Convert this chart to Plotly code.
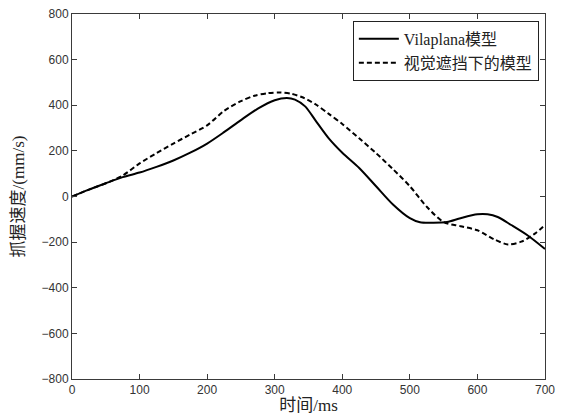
import plotly.graph_objects as go

# Time (ms) and grip velocity (mm/s)
x_solid = [0, 25, 50, 75, 100, 125, 150, 175, 200, 225, 250, 275, 300, 318, 330,
           345, 360, 380, 400, 425, 450, 475, 500, 515, 535, 555, 575, 600, 615,
           630, 650, 675, 700]
y_solid = [0, 30, 58, 85, 105, 130, 158, 192, 232, 282, 335, 385, 422, 432, 425,
           395, 335, 255, 192, 125, 45, -35, -95, -113, -115, -112, -95, -78, -78,
           -90, -125, -172, -230]

x_dash = [0, 25, 50, 75, 100, 125, 150, 175, 200, 225, 250, 270, 290, 308, 325,
          340, 360, 380, 400, 425, 450, 475, 500, 525, 550, 575, 600, 625, 645,
          665, 685, 700]
y_dash = [0, 30, 58, 92, 145, 190, 232, 272, 312, 375, 418, 442, 453, 456, 450,
          436, 405, 362, 318, 255, 190, 120, 45, -45, -112, -130, -148, -188, -210,
          -198, -163, -125]

x_ticks = [0, 100, 200, 300, 400, 500, 600, 700]
y_ticks = [-800, -600, -400, -200, 0, 200, 400, 600, 800]

series_names = ["Vilaplana模型", "视觉遮挡下的模型"]

fig = go.Figure()
fig.add_trace(go.Scatter(x=x_solid, y=y_solid, mode="lines", name=series_names[0],
                         line=dict(color="black", width=2, shape="spline", smoothing=0.8)))
fig.add_trace(go.Scatter(x=x_dash, y=y_dash, mode="lines", name=series_names[1],
                         line=dict(color="black", width=2, dash="5px,3px",
                                   shape="spline", smoothing=0.8)))

axis_common = dict(showline=True, linecolor="#3a3a3a", linewidth=1, mirror="ticks",
                   ticks="inside", ticklen=5, tickcolor="#3a3a3a", showgrid=False,
                   zeroline=False, automargin=False,
                   tickfont=dict(family="Liberation Sans, Arial", size=12, color="#333333"))

title_font = dict(family="Liberation Serif, Noto Sans CJK SC", size=17, color="#222222")

fig.update_xaxes(range=[0, 700], tickvals=x_ticks, **axis_common,
                 title=dict(text="时间/ms", standoff=0, font=title_font))
fig.update_yaxes(range=[-800, 800], tickvals=y_ticks, **axis_common,
                 title=dict(text="抓握速度/(mm/s)", standoff=12, font=title_font))

fig.update_layout(
    width=570, height=415,
    margin=dict(l=72, r=25, t=14, b=36),
    paper_bgcolor="white", plot_bgcolor="white",
    showlegend=True,
    legend=dict(x=0.987, y=0.981, xanchor="right", yanchor="top",
                bgcolor="white", bordercolor="#222222", borderwidth=1,
                font=dict(family="Liberation Serif, Noto Sans CJK SC", size=16, color="#222222"),
                tracegroupgap=0, itemwidth=40),
)

fig.write_html("out.html", config={"displayModeBar": False},
               post_script="document.body.style.margin='0';document.body.style.overflow='hidden';")
